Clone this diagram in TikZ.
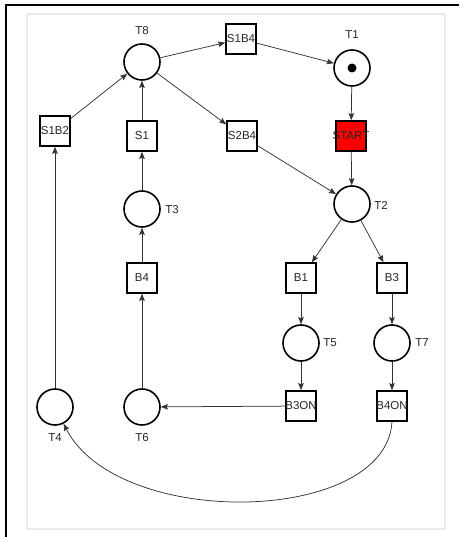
\documentclass[tikz,border=0pt]{standalone}
\usepackage{fontspec}
\setmainfont{Liberation Sans}
\usetikzlibrary{arrows.meta}
\begin{document}
\begin{tikzpicture}[x=1pt,y=-1pt,
  place/.style={circle,draw=black,line width=1.6pt,minimum size=36pt,inner sep=0pt,fill=white},
  trans/.style={rectangle,draw=black,line width=1.6pt,minimum width=30pt,minimum height=30pt,inner sep=0pt,font=\fontsize{11.5}{13}\selectfont,text=black!85},
  lbl/.style={font=\fontsize{11.5}{13}\selectfont,text=black!85,inner sep=0pt},
  arc/.style={draw=black!80,line width=0.75pt,-{Stealth[length=7pt,width=5.5pt,inset=1pt]}}
]
\useasboundingbox (0,0) rectangle (459,537);
% frames
\draw[line width=2pt] (6,538) -- (6,5) -- (459,5);
\draw[draw=black!8,line width=2pt] (27,14) rectangle (445,529);
% places
\node[place] (T8) at (142,62) {};
\node[place] (T1) at (352,68) {};
\node[place] (T2) at (352,204) {};
\node[place] (T3) at (142,209) {};
\node[place] (T5) at (301,343) {};
\node[place] (T7) at (392,343) {};
\node[place] (T4) at (55,407) {};
\node[place] (T6) at (142,407) {};
\node[circle,fill=black,minimum size=9pt,inner sep=0pt] (tok) at (T1.center) {};
% place labels
\node[lbl] (lT8) at (142,31) {T8};
\node[lbl] (lT1) at (352,35) {T1};
\node[lbl] (lT2) at (381,205) {T2};
\node[lbl] (lT3) at (172,210) {T3};
\node[lbl] (lT5) at (330,343) {T5};
\node[lbl] (lT7) at (422,343) {T7};
\node[lbl] (lT4) at (55,438) {T4};
\node[lbl] (lT6) at (142,438) {T6};
% transitions
\node[trans] (S1B4) at (241,39) {\makebox[0pt]{S1B4}};
\node[trans,fill=red] (START) at (351,136) {\makebox[0pt]{START}};
\node[trans] (S2B4) at (242,136) {\makebox[0pt]{S2B4}};
\node[trans] (S1B2) at (55,131) {\makebox[0pt]{S1B2}};
\node[trans] (S1) at (142,136) {\makebox[0pt]{S1}};
\node[trans] (B4) at (142,278) {\makebox[0pt]{B4}};
\node[trans] (B1) at (301,278) {\makebox[0pt]{B1}};
\node[trans] (B3) at (392,278) {\makebox[0pt]{B3}};
\node[trans] (B3ON) at (301,406) {\makebox[0pt]{B3ON}};
\node[trans] (B4ON) at (392,406) {\makebox[0pt]{B4ON}};
% arcs
\draw[arc] (T8) -- (S1B4);
\draw[arc] (S1B4) -- (T1);
\draw[arc] (T1) -- (START);
\draw[arc] (START) -- (T2);
\draw[arc] (T8) -- (S2B4);
\draw[arc] (S2B4) -- (T2);
\draw[arc] (T2) -- (B1);
\draw[arc] (T2) -- (B3);
\draw[arc] (B1) -- (T5);
\draw[arc] (T5) -- (B3ON);
\draw[arc] (B3) -- (T7);
\draw[arc] (T7) -- (B4ON);
\draw[arc] (B3ON) -- (T6);
\draw[arc] (T6) -- (B4);
\draw[arc] (B4) -- (T3);
\draw[arc] (T3) -- (S1);
\draw[arc] (S1) -- (T8);
\draw[arc] (T4) -- (S1B2);
\draw[arc] (S1B2) -- (T8);
\draw[arc] (B4ON.south) .. controls (386,525) and (118,530) .. (T4);
\end{tikzpicture}
\end{document}
